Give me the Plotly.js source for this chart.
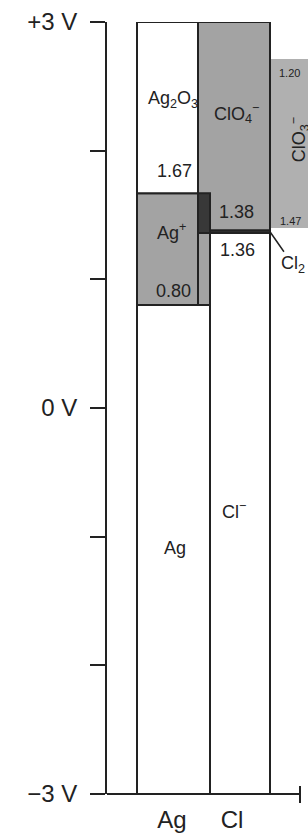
<!DOCTYPE html>
<html>
<head>
<meta charset="utf-8">
<script src="https://cdn.plot.ly/plotly-3.0.1.min.js"></script>
<style>
html,body{margin:0;padding:0;background:#fff;overflow:hidden}
#chart{width:308px;height:837px}
</style>
</head>
<body>
<div id="chart"></div>
<script>
// ---------------- data ----------------
const elements = ['Ag', 'Cl'];

const agSpecies = ['Ag', 'Ag<sup>+</sup>', 'Ag<sub>2</sub>O<sub>3</sub>'];
const agLower   = [-3, 0.80, 1.67];
const agUpper   = [0.80, 1.67, 3];

const clSpecies = ['Cl<sup>−</sup>', 'Cl<sub>2</sub>', 'ClO<sub>4</sub><sup>−</sup>'];
const clLower   = [-3, 1.36, 1.38];
const clUpper   = [1.36, 1.38, 3];

const clo3Species = 'ClO<sub>3</sub><sup>−</sup>';
const clo3Lower   = 1.40;
const clo3Upper   = 2.71;
const clo3Values  = [1.20, 1.47];

const voltTicks    = [-3, -2, -1, 0, 1, 2, 3];
const voltTickText = ['−3 V', '', '', '0 V', '', '', '+3 V'];

// ---------------- styling / geometry ----------------
const FONT = 'Liberation Sans, Arial, Helvetica, sans-serif';
const INK = '#222222';
const GREY = '#a3a3a3';
const GREY3 = '#b0b0b0';
const DARK = '#383838';
const LW = 2;

// column edges in x-axis units
const AG_L = 137, STRIP_L = 198, DIV = 210, CL_R = 270, C3_R = 360;

function box(x0, x1, lo, hi, fill, outline) {
  return {
    type: 'bar', orientation: 'v',
    x: [(x0 + x1) / 2], width: [x1 - x0],
    base: [lo], y: [hi - lo],
    marker: { color: fill, line: { color: INK, width: outline ? LW : 0 } },
    hoverinfo: 'skip', showlegend: false
  };
}

const traces = [
  box(CL_R, C3_R, clo3Lower, clo3Upper, GREY3, false),
  box(AG_L, DIV, agLower[0], agUpper[0], '#ffffff', true),     // Ag
  box(AG_L, DIV, agLower[1], agUpper[1], GREY, true),          // Ag+
  box(STRIP_L, DIV, agLower[1], agUpper[1], GREY, true),       // Ag+ strip
  box(AG_L, STRIP_L, agLower[2], agUpper[2], '#ffffff', true), // Ag2O3
  box(STRIP_L, CL_R, clLower[2], clUpper[2], GREY, true),      // ClO4-
  box(STRIP_L, CL_R, clLower[1], clUpper[1], DARK, true),      // Cl2
  box(DIV, CL_R, clLower[0], clUpper[0], '#ffffff', true),     // Cl-
  box(STRIP_L, DIV, clLower[1], agUpper[1], DARK, true)        // overlap
];

function ann(text, x, y, size, extra) {
  return Object.assign({
    text: text, x: x, y: y, xref: 'x', yref: 'y',
    showarrow: false, xanchor: 'center', yanchor: 'middle',
    font: { family: FONT, size: size, color: INK }
  }, extra || {});
}

const annotations = [
  ann(agSpecies[2], 173, 2.40, 18),
  ann(clSpecies[2], 236, 2.29, 18),
  ann(agUpper[1].toFixed(2), 174, 1.84, 18),
  ann(agSpecies[1], 171, 1.37, 18),
  ann(agLower[1].toFixed(2), 173, 0.91, 18),
  ann(clLower[2].toFixed(2), 236, 1.52, 18),
  ann(clUpper[0].toFixed(2), 237, 1.23, 18),
  ann(agSpecies[0], 175, -1.085, 18),
  ann(clSpecies[0], 234, -0.80, 18),
  ann(clSpecies[1], CL_R, 1.37, 18, { showarrow: true, arrowhead: 0, arrowwidth: 1.5,
      arrowcolor: INK, ax: 23, ay: 33, standoff: 0 }),
  ann(clo3Values[0].toFixed(2), 277, 2.60, 11, { xanchor: 'left' }),
  ann(clo3Values[1].toFixed(2), 278, 1.45, 11, { xanchor: 'left' }),
  ann(clo3Species, 299, 2.08, 18, { textangle: -90 })
];

const layout = {
  width: 308, height: 837,
  margin: { l: 107, r: 0, t: 22, b: 43, pad: 0 },
  paper_bgcolor: '#ffffff', plot_bgcolor: '#ffffff',
  barmode: 'overlay', bargap: 0,
  showlegend: false,
  font: { family: FONT, color: INK },
  xaxis: {
    range: [107, 308], fixedrange: true,
    showgrid: false, zeroline: false, showline: false,
    tickvals: [172, 232], ticktext: elements, ticks: '',
    tickfont: { family: FONT, size: 24, color: INK },
    ticklabelstandoff: 9
  },
  yaxis: {
    range: [-3, 3], fixedrange: true,
    showgrid: false, zeroline: false,
    showline: true, linecolor: INK, linewidth: LW,
    ticks: 'outside', ticklen: 15, tickwidth: LW, tickcolor: INK,
    tickvals: voltTicks, ticktext: voltTickText,
    tickfont: { family: FONT, size: 24, color: INK },
    ticklabelstandoff: 8
  },
  shapes: [
    { type: 'line', xref: 'paper', yref: 'paper', x0: 0, x1: (300 - 107) / 201, y0: 0, y1: 0,
      line: { color: INK, width: LW } },
    { type: 'line', xref: 'paper', yref: 'paper', x0: (300 - 107) / 201, x1: (300 - 107) / 201,
      y0: -0.0117, y1: 0.0104, line: { color: INK, width: LW } }
  ],
  annotations: annotations
};

Plotly.newPlot('chart', traces, layout, { displayModeBar: false, staticPlot: true });
</script>
</body>
</html>
